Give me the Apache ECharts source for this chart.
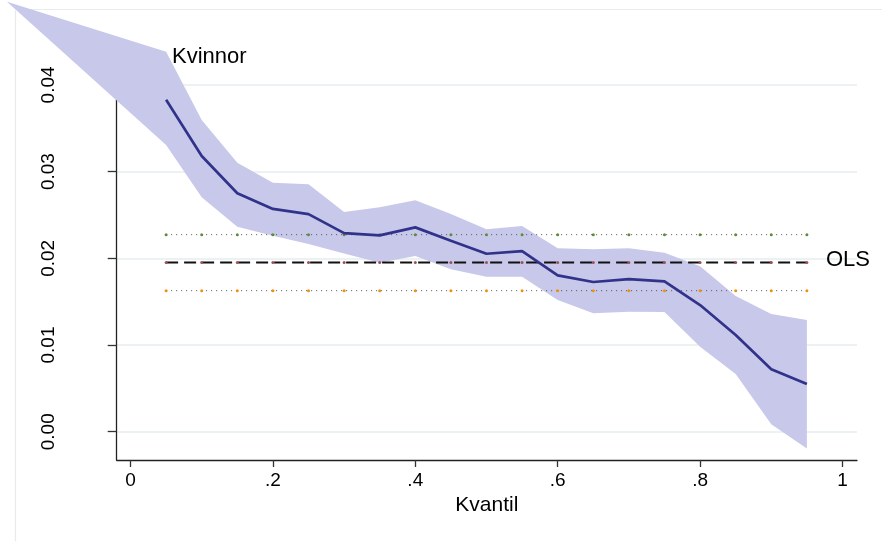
<!DOCTYPE html>
<html><head><meta charset="utf-8">
<script src="https://cdn.jsdelivr.net/npm/echarts@6/dist/echarts.min.js"></script>
<style>html,body{margin:0;padding:0;background:#fff}#c{width:882px;height:541px}</style>
</head><body><div id="c"></div>
<script>
const quantiles = [0.05,0.10,0.15,0.20,0.25,0.30,0.35,0.40,0.45,0.50,0.55,0.60,0.65,0.70,0.75,0.80,0.85,0.90,0.95];
const coefs   = [0.0383,0.0318,0.0275,0.0257,0.0251,0.0229,0.02265,0.02357,0.02203,0.02053,0.02084,0.01804,0.01727,0.01761,0.01735,0.01461,0.01115,0.0072,0.0055];
const ciUpper = [0.04383,0.03595,0.03103,0.02872,0.02855,0.02535,0.0259,0.0267,0.0251,0.02336,0.02373,0.02115,0.02104,0.02115,0.02065,0.0191,0.01565,0.01358,0.01288];
const ciLower = [0.03307,0.02705,0.02365,0.0226,0.02165,0.02055,0.0195,0.02027,0.01873,0.01788,0.01788,0.0152,0.01366,0.01384,0.0138,0.0098,0.00666,0.00085,-0.00192];
const bandTip = [-0.1735, 0.0496];
const olsCoef = 0.01953;
const olsUpper = 0.02273;
const olsLower = 0.01627;
const xTicks = [0,0.2,0.4,0.6,0.8,1];
const xTickLabels = ['0','.2','.4','.6','.8','1'];
const yTicks = [0,0.01,0.02,0.03,0.04];
const yTickLabels = ['0.00','0.01','0.02','0.03','0.04'];
const xTitle = 'Kvantil';
const seriesLabel = 'Kvinnor';
const olsLabel = 'OLS';

const FONT = '"Liberation Sans", Arial, sans-serif';
function lab(ticks, labels){ return v => { const i = ticks.findIndex(t => Math.abs(t - v) < 1e-9); return i >= 0 ? labels[i] : ''; }; }

const chart = echarts.init(document.getElementById('c'), null, {renderer:'canvas'});
chart.setOption({
  animation:false,
  backgroundColor:'#fff',
  grid:{left:116.7, right:25, top:40.7, bottom:81, containLabel:false},
  xAxis:{
    type:'value', min:-0.0194, max:1.0204,
    axisLine:{show:true, onZero:false, lineStyle:{color:'#222', width:1.3}},
    axisTick:{show:true, length:7, customValues:xTicks, lineStyle:{color:'#333', width:1.3}},
    axisLabel:{customValues:xTicks, formatter:lab(xTicks,xTickLabels), margin:11, fontSize:19, color:'#000', fontFamily:FONT},
    splitLine:{show:false},
    name:xTitle, nameLocation:'middle', nameGap:25,
    nameTextStyle:{fontSize:21, color:'#000', fontFamily:FONT}
  },
  yAxis:{
    type:'value', min:-0.00326, max:0.0451,
    axisLine:{show:true, onZero:false, lineStyle:{color:'#222', width:1.3}},
    axisTick:{show:true, length:9, customValues:yTicks, lineStyle:{color:'#333', width:1.3}},
    axisLabel:{customValues:yTicks, formatter:lab(yTicks,yTickLabels), rotate:90, margin:58, fontSize:19, color:'#000', fontFamily:FONT},
    splitLine:{show:true, lineStyle:{color:'#e6eef0', width:1.5}}
  },
  graphic:[
    {type:'line', shape:{x1:16, y1:9.5, x2:882, y2:9.5}, style:{stroke:'#e6ecee', lineWidth:1.2}, z:0},
    {type:'line', shape:{x1:15.5, y1:9.5, x2:15.5, y2:541}, style:{stroke:'#e6ecee', lineWidth:1.2}, z:0},
    {type:'text', x:172, y:57, style:{text:seriesLabel, font:'22px '+FONT, fill:'#000', textVerticalAlign:'middle'}, z:10},
    {type:'text', x:826, y:260, style:{text:olsLabel, font:'22px '+FONT, fill:'#000', textVerticalAlign:'middle'}, z:10}
  ],
  series:[
    {
      type:'custom', clip:false, silent:true, z:1,
      data:[[quantiles[0], coefs[0]]],
      renderItem:function(params, api){
        const pts = [api.coord(bandTip)];
        quantiles.forEach((q,i)=>pts.push(api.coord([q, ciUpper[i]])));
        for(let i=quantiles.length-1;i>=0;i--) pts.push(api.coord([quantiles[i], ciLower[i]]));
        return {type:'polygon', shape:{points:pts}, style:{fill:'#c8c8ea', stroke:null}};
      }
    },
    {
      type:'line', z:3, silent:true,
      data:quantiles.map(q=>[q, olsUpper]),
      symbol:'circle', symbolSize:3, itemStyle:{color:'#5b8c3a', borderWidth:0},
      lineStyle:{color:'#555', width:1, type:[1,4]}
    },
    {
      type:'line', z:3, silent:true,
      data:quantiles.map(q=>[q, olsLower]),
      symbol:'circle', symbolSize:3, itemStyle:{color:'#f0900f', borderWidth:0},
      lineStyle:{color:'#555', width:1, type:[1,4]}
    },
    {
      type:'line', z:4, silent:true,
      data:quantiles.map(q=>[q, olsCoef]),
      symbol:'circle', symbolSize:3, itemStyle:{color:'#a0505a', borderWidth:0},
      lineStyle:{color:'#111', width:2, type:[12,6]}
    },
    {
      type:'line', z:5, silent:true,
      data:quantiles.map((q,i)=>[q, coefs[i]]),
      showSymbol:false, symbol:'none',
      lineStyle:{color:'#31338a', width:2.7}
    }
  ]
});
</script></body></html>
